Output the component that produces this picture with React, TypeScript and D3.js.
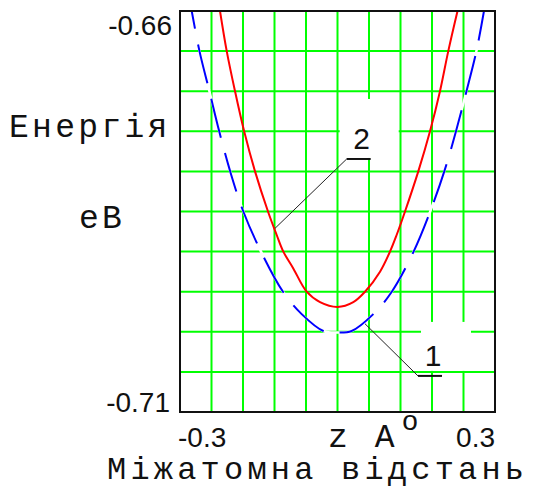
import React from "react";
import * as d3 from "d3";

// plot limits - Mathcad style, only the end values are printed
const xLimits = [-0.3, 0.3];
const yLimits = [-0.71, -0.66];
const xLabels = ["-0.3", "0.3"];
const yLabels = ["-0.66", "-0.71"];
const gridDivisions = 10;

// curve 1 (blue, dashed) - distance z (A) and energy (eV)
const curve1Z = [
  -0.2777, -0.2629, -0.244, -0.2253, -0.2044, -0.1794, -0.1457, -0.1038, -0.0682, -0.027, 0,
  0.027, 0.0682, 0.1034, 0.145, 0.1766, 0.2034, 0.2257, 0.2457, 0.2646, 0.279,
];
const curve1E = [
  -0.66, -0.665, -0.67, -0.675, -0.68, -0.685, -0.69, -0.695, -0.6978, -0.6999, -0.7001,
  -0.6999, -0.6978, -0.695, -0.69, -0.685, -0.68, -0.675, -0.67, -0.665, -0.66,
];

// curve 2 (red, solid)
const curve2Z = [
  -0.2238, -0.211, -0.1952, -0.1778, -0.1571, -0.1324, -0.116, -0.1032, -0.0842, -0.0587,
  -0.0333, 0, 0.0301, 0.0524, 0.081, 0.1, 0.1128, 0.1286, 0.1539, 0.1762, 0.1952, 0.211,
  0.2286,
];
const curve2E = [
  -0.66, -0.665, -0.67, -0.675, -0.68, -0.685, -0.6879, -0.69, -0.6921, -0.695,
  -0.6963, -0.6969, -0.6963, -0.695, -0.6925, -0.69, -0.6879, -0.685, -0.68, -0.675, -0.67,
  -0.665, -0.66,
];

// curve labels: point on the curve and the start of the label's underline
const labelNames = ["1", "2"];
const labelAnchorZ = [0.0524, -0.119];
const labelAnchorE = [-0.699, -0.6871];
const labelTailZ = [0.1533, 0.0175];
const labelTailE = [-0.7055, -0.67845];

export default function App() {
  const width = 533;
  const height = 486;
  const left = 180;
  const right = 495;
  const top = 11;
  const bottom = 412;

  const x = d3.scaleLinear().domain(xLimits).range([left, right]);
  const y = d3.scaleLinear().domain(yLimits).range([bottom, top]);

  const xGrid = d3.range(1, gridDivisions).map(
    (i) => xLimits[0] + ((xLimits[1] - xLimits[0]) * i) / gridDivisions
  );
  const yGrid = d3.range(1, gridDivisions).map(
    (i) => yLimits[0] + ((yLimits[1] - yLimits[0]) * i) / gridDivisions
  );

  const line = d3
    .line<[number, number]>()
    .x((d) => x(d[0]))
    .y((d) => y(d[1]))
    .curve(d3.curveCatmullRom.alpha(0.5));

  const path1 = line(curve1Z.map((z, i) => [z, curve1E[i]]));
  const path2 = line(curve2Z.map((z, i) => [z, curve2E[i]]));

  const sans = "'Liberation Sans', Arial, sans-serif";
  const mono = "'Liberation Mono', 'Courier New', monospace";

  // white boxes Mathcad leaves behind the labels (relative to underline start)
  const boxes = [
    { dx0: 3, dx1: 53, dy0: -54, dy1: -5 },
    { dx0: -7, dx1: 52, dy0: -60, dy1: -1 },
  ];

  return (
    <svg
      width={width}
      height={height}
      style={{ position: "absolute", left: 0, top: 0, background: "#fff" }}
    >
      <defs>
        <clipPath id="plot-clip">
          <rect x={left} y={top} width={right - left} height={bottom - top} />
        </clipPath>
      </defs>

      {/* grid */}
      <g stroke="#00ff00" strokeWidth={2}>
        {xGrid.map((v, i) => (
          <line key={"gx" + i} x1={x(v)} x2={x(v)} y1={top} y2={bottom} />
        ))}
        {yGrid.map((v, i) => (
          <line key={"gy" + i} x1={left} x2={right} y1={y(v)} y2={y(v)} />
        ))}
      </g>

      {/* erased areas under labels */}
      {labelNames.map((n, i) => {
        const bx = x(labelTailZ[i]);
        const by = y(labelTailE[i]);
        const b = boxes[i];
        return (
          <rect
            key={"box" + n}
            x={bx + b.dx0}
            y={by + b.dy0}
            width={b.dx1 - b.dx0}
            height={b.dy1 - b.dy0}
            fill="#fff"
          />
        );
      })}

      <g clipPath="url(#plot-clip)" fill="none">
        <path d={path1 || ""} stroke="#fff" strokeWidth={2.5} />
        <path
          d={path1 || ""}
          stroke="#0000ff"
          strokeWidth={2}
          strokeDasharray="40,16"
          strokeDashoffset={22}
        />
        <path d={path2 || ""} stroke="#ff0000" strokeWidth={2} />
      </g>

      {/* leader lines and labels */}
      {labelNames.map((n, i) => {
        const ax = x(labelAnchorZ[i]);
        const ay = y(labelAnchorE[i]);
        const tx = x(labelTailZ[i]);
        const ty = y(labelTailE[i]);
        return (
          <g key={"lbl" + n}>
            <line x1={ax} y1={ay} x2={tx} y2={ty} stroke="#222" strokeWidth={1} />
            <line x1={tx} y1={ty} x2={tx + 24} y2={ty} stroke="#111" strokeWidth={2} />
            <text
              x={tx + 15}
              y={ty - 10}
              textAnchor="middle"
              fontFamily={sans}
              fontSize={30}
              fill="#111"
            >
              {n}
            </text>
          </g>
        );
      })}

      {/* frame */}
      <rect
        x={left}
        y={top}
        width={right - left}
        height={bottom - top}
        fill="none"
        stroke="#111"
        strokeWidth={2}
      />

      {/* axis end values */}
      <g fontFamily={sans} fontSize={28} fill="#111">
        <text x={left - 8} y={top + 24} textAnchor="end">
          {yLabels[0]}
        </text>
        <text x={left - 10} y={bottom} textAnchor="end">
          {yLabels[1]}
        </text>
        <text x={x(xLimits[0]) - 2} y={447} textAnchor="start">
          {xLabels[0]}
        </text>
        <text x={x(xLimits[1])} y={447} textAnchor="end">
          {xLabels[1]}
        </text>
      </g>
      <text x={410} y={430} textAnchor="middle" fontFamily={sans} fontSize={28} fill="#111">
        o
      </text>

      {/* axis titles */}
      <g fontFamily={mono} fill="#111">
        <text x={328} y={447} fontSize={33} letterSpacing={3.6}>
          z A
        </text>
        <text x={9} y={137} fontSize={33} letterSpacing={3.3}>
          Енергія
        </text>
        <text x={79} y={228} fontSize={33} letterSpacing={3.3}>
          eB
        </text>
        <text x={107} y={479} fontSize={32} letterSpacing={4.2}>
          Міжатомна відстань
        </text>
      </g>
    </svg>
  );
}
